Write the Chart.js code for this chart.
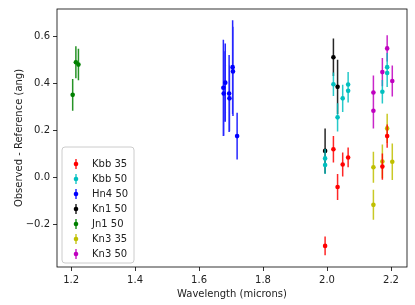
<!DOCTYPE html>
<html>
<head>
<meta charset="utf-8">
<script src="https://cdn.jsdelivr.net/npm/chart.js@4.4.1/dist/chart.umd.min.js"></script>
<style>
  html, body { margin: 0; padding: 0; background: #fff; }
  #wrap { width: 415px; height: 305px; }
</style>
</head>
<body>
<div id="wrap"><canvas id="residChart" width="415" height="305"></canvas></div>
<script>
// Wavelength (microns), residual (ang) and error for each filter / scale
const kbb35Wave = [1.994, 2.020, 2.033, 2.049, 2.066, 2.173, 2.188];
const kbb35Val  = [-0.292, 0.120, -0.041, 0.055, 0.085, 0.046, 0.176];
const kbb35Err  = [0.040, 0.056, 0.055, 0.051, 0.042, 0.056, 0.050];

const kbb50Wave = [1.994, 1.994, 2.020, 2.033, 2.049, 2.066, 2.066, 2.173, 2.188, 2.188];
const kbb50Val  = [0.081, 0.053, 0.397, 0.256, 0.337, 0.396, 0.369, 0.365, 0.470, 0.445];
const kbb50Err  = [0.040, 0.038, 0.050, 0.060, 0.058, 0.053, 0.050, 0.050, 0.060, 0.060];

const hn4Wave = [1.676, 1.677, 1.682, 1.694, 1.695, 1.705, 1.706, 1.719];
const hn4Val  = [0.382, 0.358, 0.404, 0.358, 0.337, 0.470, 0.452, 0.176];
const hn4Err  = [0.205, 0.180, 0.167, 0.164, 0.140, 0.200, 0.190, 0.100];

const kn1Wave = [1.994, 2.020, 2.033];
const kn1Val  = [0.113, 0.512, 0.386];
const kn1Err  = [0.096, 0.080, 0.116];

const jn1Wave = [1.205, 1.215, 1.223];
const jn1Val  = [0.352, 0.491, 0.481];
const jn1Err  = [0.068, 0.068, 0.067];

const kn335Wave = [2.145, 2.145, 2.173, 2.188, 2.204];
const kn335Val  = [0.043, -0.117, 0.068, 0.209, 0.067];
const kn335Err  = [0.066, 0.064, 0.072, 0.062, 0.078];

const kn350Wave = [2.145, 2.145, 2.173, 2.188, 2.204];
const kn350Val  = [0.362, 0.284, 0.449, 0.550, 0.411];
const kn350Err  = [0.073, 0.075, 0.060, 0.056, 0.066];

const seriesLabels = ['Kbb 35', 'Kbb 50', 'Hn4 50', 'Kn1 50', 'Jn1 50', 'Kn3 35', 'Kn3 50'];
const seriesColors = ['#ff0000', '#00bfbf', '#0000ff', '#000000', '#008000', '#bfbf00', '#bf00bf'];

const xTicks = [1.2, 1.4, 1.6, 1.8, 2.0, 2.2];
const yTicks = [-0.2, 0.0, 0.2, 0.4, 0.6];

const series = [
  [kbb35Wave, kbb35Val, kbb35Err],
  [kbb50Wave, kbb50Val, kbb50Err],
  [hn4Wave, hn4Val, hn4Err],
  [kn1Wave, kn1Val, kn1Err],
  [jn1Wave, jn1Val, jn1Err],
  [kn335Wave, kn335Val, kn335Err],
  [kn350Wave, kn350Val, kn350Err]
];

const datasets = series.map(([wave, val, err], i) => ({
  label: seriesLabels[i],
  data: wave.map((w, j) => ({ x: w, y: val[j] })),
  errors: err,
  pointBackgroundColor: seriesColors[i],
  pointBorderWidth: 0,
  pointRadius: 2.3,
  pointHoverRadius: 2.3,
  showLine: false
}));

// vertical error bars, drawn just before each dataset's own markers
const errorBars = {
  id: 'errorBars',
  beforeDatasetDraw(chart, args) {
    const ds = chart.data.datasets[args.index];
    const { x, y } = chart.scales;
    const ctx = chart.ctx;
    ctx.save();
    ctx.strokeStyle = ds.pointBackgroundColor;
    ctx.globalAlpha = 0.85;
    ctx.lineWidth = 1.5;
    ctx.beginPath();
    ds.data.forEach((p, j) => {
      const px = x.getPixelForValue(p.x);
      ctx.moveTo(px, y.getPixelForValue(p.y + ds.errors[j]));
      ctx.lineTo(px, y.getPixelForValue(p.y - ds.errors[j]));
    });
    ctx.stroke();
    ctx.restore();
  }
};

// axes box plus a matplotlib style legend inside the plot
const frameAndLegend = {
  id: 'frameAndLegend',
  afterDraw(chart) {
    const ctx = chart.ctx;
    const a = chart.chartArea;
    ctx.save();
    ctx.strokeStyle = '#000';
    ctx.lineWidth = 0.8;
    ctx.strokeRect(a.left, a.top, a.right - a.left, a.bottom - a.top);

    const bx = 62, by = 147, bw = 72, bh = 116, r = 3;
    ctx.beginPath();
    ctx.moveTo(bx + r, by);
    ctx.arcTo(bx + bw, by, bx + bw, by + bh, r);
    ctx.arcTo(bx + bw, by + bh, bx, by + bh, r);
    ctx.arcTo(bx, by + bh, bx, by, r);
    ctx.arcTo(bx, by, bx + bw, by, r);
    ctx.closePath();
    ctx.fillStyle = 'rgba(255,255,255,0.8)';
    ctx.fill();
    ctx.strokeStyle = '#cccccc';
    ctx.lineWidth = 1;
    ctx.stroke();

    ctx.font = '10px "DejaVu Sans"';
    ctx.textBaseline = 'middle';
    ctx.textAlign = 'left';
    chart.data.datasets.forEach((ds, i) => {
      const cy = 164 + i * 15;
      ctx.strokeStyle = ds.pointBackgroundColor;
      ctx.globalAlpha = 0.85;
      ctx.lineWidth = 1.5;
      ctx.beginPath();
      ctx.moveTo(76, cy - 5);
      ctx.lineTo(76, cy + 5);
      ctx.stroke();
      ctx.globalAlpha = 1;
      ctx.fillStyle = ds.pointBackgroundColor;
      ctx.beginPath();
      ctx.arc(76, cy, 2.3, 0, Math.PI * 2);
      ctx.fill();
      ctx.fillStyle = '#222';
      ctx.fillText(ds.label, 92, cy + 0.5);
    });
    ctx.restore();
  }
};

Chart.defaults.font.family = '"DejaVu Sans", sans-serif';
Chart.defaults.font.size = 10;
Chart.defaults.color = '#222';

new Chart(document.getElementById('residChart'), {
  type: 'scatter',
  data: { datasets },
  plugins: [errorBars, frameAndLegend],
  options: {
    responsive: false,
    animation: false,
    events: [],
    layout: { padding: { top: 6, right: 8, left: 13, bottom: 5 } },
    plugins: {
      legend: { display: false },
      tooltip: { enabled: false }
    },
    scales: {
      x: {
        type: 'linear',
        min: 1.156,
        max: 2.25,
        afterBuildTicks: (scale) => { scale.ticks = xTicks.map(v => ({ value: v })); },
        afterFit: (scale) => { scale.height = 33; },
        grid: { drawOnChartArea: false, drawTicks: true, tickLength: 4, color: '#000', lineWidth: 0.8 },
        border: { display: false },
        ticks: { padding: 3, maxRotation: 0, autoSkip: false, callback: (v) => v.toFixed(1) },
        title: { display: true, text: 'Wavelength (microns)', padding: 0 }
      },
      y: {
        type: 'linear',
        min: -0.382,
        max: 0.718,
        afterBuildTicks: (scale) => { scale.ticks = yTicks.map(v => ({ value: v })); },
        afterFit: (scale) => { scale.width = 44; },
        grid: { drawOnChartArea: false, drawTicks: true, tickLength: 4, color: '#000', lineWidth: 0.8 },
        border: { display: false },
        ticks: { padding: 3, autoSkip: false, callback: (v) => v.toFixed(1).replace('-', '\u2212') },
        title: { display: true, text: 'Observed - Reference (ang)', padding: 0 }
      }
    }
  }
});
</script>
</body>
</html>
